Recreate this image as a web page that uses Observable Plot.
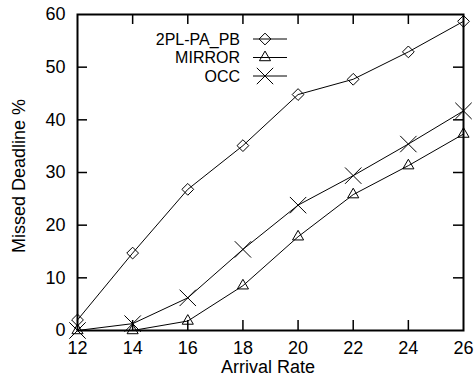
<!DOCTYPE html>
<html>
<head>
<meta charset="utf-8">
<script src="https://cdn.jsdelivr.net/npm/d3@7"></script>
<script src="https://cdn.jsdelivr.net/npm/@observablehq/plot@0.6"></script>
<style>
  html, body { margin: 0; padding: 0; background: #fff; }
  #chart svg { display: block; }
</style>
</head>
<body>
<div id="chart"></div>
<script>
const arrivalRates = [12, 14, 16, 18, 20, 22, 24, 26];
const seriesNames = ["2PL-PA_PB", "MIRROR", "OCC"];
const pl2Values = [2.0, 14.7, 26.8, 35.1, 44.8, 47.7, 52.9, 58.7];
const mirrorValues = [0.0, 0.0, 1.8, 8.5, 17.8, 25.8, 31.3, 37.3];
const occValues = [0.0, 1.3, 6.2, 15.4, 23.8, 29.4, 35.4, 41.7];
const xTicks = [12, 14, 16, 18, 20, 22, 24, 26];
const yTicks = [0, 10, 20, 30, 40, 50, 60];

const seriesValues = [pl2Values, mirrorValues, occValues];
const symbols = ["diamond2", "triangle2", "times"];
const radii = [5.3, 5.3, 7.5];

const rows = [];
seriesNames.forEach((s, i) => {
  arrivalRates.forEach((x, j) => rows.push({series: s, x, y: seriesValues[i][j]}));
});

const W = 474, H = 376;
const mL = 77, mR = 11, mT = 14, mB = 46;
const innerW = W - mL - mR, innerH = H - mT - mB;
const tickLen = 10;
const font = "'Liberation Sans', Arial, Helvetica, sans-serif";

const marks = [
  Plot.axisX(xTicks, {tickSize: 0, tickPadding: 11, fontSize: 18, fill: "#000"}),
  Plot.axisY(yTicks, {tickSize: 0, tickPadding: 12, fontSize: 18, fill: "#000"}),
  Plot.tickX(xTicks.slice(1, -1), {x: d => d, insetTop: innerH - tickLen, stroke: "#000", strokeWidth: 1.5}),
  Plot.tickX(xTicks.slice(1, -1), {x: d => d, insetBottom: innerH - tickLen, stroke: "#000", strokeWidth: 1.5}),
  Plot.tickY(yTicks.slice(1, -1), {y: d => d, insetRight: innerW - tickLen, stroke: "#000", strokeWidth: 1.5}),
  Plot.tickY(yTicks.slice(1, -1), {y: d => d, insetLeft: innerW - tickLen, stroke: "#000", strokeWidth: 1.5}),
  Plot.frame({stroke: "#000", strokeWidth: 2})
];
seriesNames.forEach((s, i) => {
  const d = rows.filter(r => r.series === s);
  marks.push(Plot.line(d, {x: "x", y: "y", stroke: "#000", strokeWidth: 1}));
  marks.push(Plot.dot(d, {x: "x", y: "y", symbol: () => symbols[i], r: radii[i], stroke: "#000", strokeWidth: 1, fill: "none"}));
});

const chart = Plot.plot({
  width: W,
  height: H,
  marginLeft: mL,
  marginRight: mR,
  marginTop: mT,
  marginBottom: mB,
  style: {fontFamily: font, color: "#000", background: "#fff"},
  x: {domain: [12, 26], label: null},
  y: {domain: [0, 60], label: null},
  symbol: {domain: symbols, range: symbols},
  marks
});

const svg = d3.select(chart);
// axis titles
svg.append("text")
  .attr("x", mL + innerW / 2 - 2).attr("y", 373)
  .attr("text-anchor", "middle")
  .style("font-family", font).style("font-size", "18px").attr("fill", "#000")
  .text("Arrival Rate");
svg.append("text")
  .attr("transform", `translate(25, ${mT + innerH / 2 + 4}) rotate(-90)`)
  .attr("text-anchor", "middle")
  .style("font-family", font).style("font-size", "18px").attr("fill", "#000")
  .text("Missed Deadline %");

// legend
const d3sym = {diamond2: d3.symbolDiamond2, triangle2: d3.symbolTriangle2, times: d3.symbolTimes};
seriesNames.forEach((s, i) => {
  const cy = 39 + i * 18.5;
  const g = svg.append("g");
  g.append("text")
    .attr("x", 240).attr("y", cy).attr("dy", "0.36em")
    .attr("text-anchor", "end")
    .style("font-family", font).style("font-size", "16px").attr("fill", "#000")
    .text(s);
  g.append("line").attr("x1", 253).attr("x2", 287).attr("y1", cy).attr("y2", cy)
    .attr("stroke", "#000").attr("stroke-width", 1);
  g.append("path")
    .attr("transform", `translate(265, ${cy})`)
    .attr("d", d3.symbol(d3sym[symbols[i]], Math.PI * radii[i] * radii[i])())
    .attr("fill", "none").attr("stroke", "#000").attr("stroke-width", 1);
});

document.getElementById("chart").appendChild(chart);
</script>
</body>
</html>
